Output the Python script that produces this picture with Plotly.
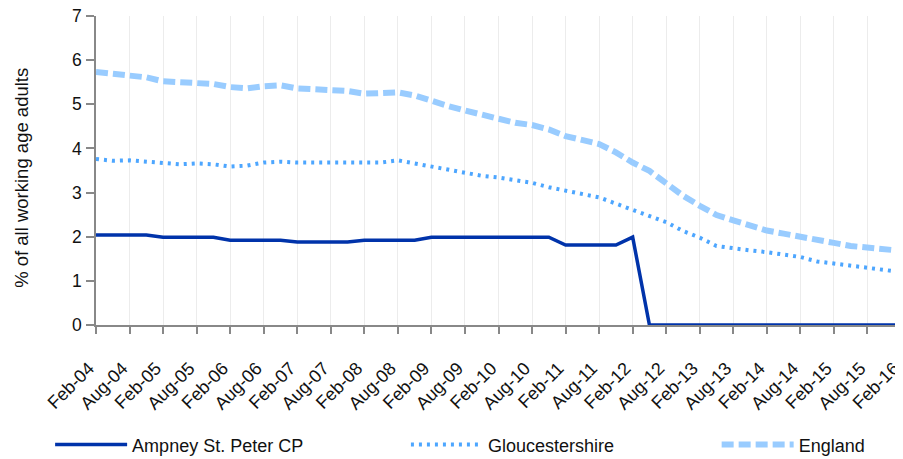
import plotly.graph_objects as go

quarters = [
    "Feb-04", "May-04", "Aug-04", "Nov-04", "Feb-05", "May-05", "Aug-05", "Nov-05",
    "Feb-06", "May-06", "Aug-06", "Nov-06", "Feb-07", "May-07", "Aug-07", "Nov-07",
    "Feb-08", "May-08", "Aug-08", "Nov-08", "Feb-09", "May-09", "Aug-09", "Nov-09",
    "Feb-10", "May-10", "Aug-10", "Nov-10", "Feb-11", "May-11", "Aug-11", "Nov-11",
    "Feb-12", "May-12", "Aug-12", "Nov-12", "Feb-13", "May-13", "Aug-13", "Nov-13",
    "Feb-14", "May-14", "Aug-14", "Nov-14", "Feb-15", "May-15", "Aug-15", "Nov-15",
    "Feb-16",
]
tick_labels = [q for q in quarters if q[:3] in ("Feb", "Aug")]

ampney = [
    2.04, 2.04, 2.04, 2.04, 1.99, 1.99, 1.99, 1.99,
    1.92, 1.92, 1.92, 1.92, 1.88, 1.88, 1.88, 1.88,
    1.92, 1.92, 1.92, 1.92, 1.99, 1.99, 1.99, 1.99,
    1.99, 1.99, 1.99, 1.99, 1.81, 1.81, 1.81, 1.81,
    1.99, 0, 0, 0, 0, 0, 0, 0,
    0, 0, 0, 0, 0, 0, 0, 0,
    0,
]
gloucestershire = [
    3.76, 3.72, 3.73, 3.70, 3.66, 3.64, 3.66, 3.64,
    3.59, 3.61, 3.68, 3.70, 3.68, 3.68, 3.68, 3.68,
    3.68, 3.68, 3.73, 3.66, 3.59, 3.51, 3.46, 3.38,
    3.34, 3.28, 3.22, 3.12, 3.04, 2.97, 2.89, 2.75,
    2.61, 2.48, 2.33, 2.13, 1.98, 1.79, 1.73, 1.69,
    1.65, 1.60, 1.54, 1.44, 1.39, 1.33, 1.28, 1.24,
    1.20,
]
england = [
    5.73, 5.69, 5.67, 5.61, 5.52, 5.50, 5.49, 5.46,
    5.39, 5.36, 5.41, 5.43, 5.36, 5.34, 5.33, 5.30,
    5.24, 5.25, 5.27, 5.20, 5.07, 4.96, 4.86, 4.77,
    4.66, 4.58, 4.53, 4.43, 4.28, 4.18, 4.10, 3.91,
    3.68, 3.49, 3.21, 2.93, 2.70, 2.49, 2.37, 2.25,
    2.14, 2.07, 1.99, 1.92, 1.86, 1.79, 1.75, 1.71,
    1.68,
]

FONT = "Liberation Sans, Arial, sans-serif"

fig = go.Figure()
fig.add_trace(go.Scatter(
    x=quarters, y=ampney, name="Ampney St. Peter CP", mode="lines",
    line=dict(color="#0033aa", width=3.5), legend="legend", showlegend=True,
))
fig.add_trace(go.Scatter(
    x=quarters, y=gloucestershire, name="Gloucestershire", mode="lines",
    line=dict(color="#4da6ff", width=4, dash="3px,5px"), legend="legend2",
))
fig.add_trace(go.Scatter(
    x=quarters, y=england, name="England", mode="lines",
    line=dict(color="#99ccff", width=6, dash="12px,5px"), legend="legend3",
))

legend_style = dict(
    orientation="h", yanchor="middle", xanchor="left", y=-0.388,
    font=dict(family=FONT, size=18, color="#111"),
    bgcolor="rgba(0,0,0,0)", itemwidth=72,
)

# page body has an 8px margin, so the figure is a bit smaller than the window
fig.update_layout(
    width=895, height=451,
    margin=dict(l=88, r=2, t=8, b=134, autoexpand=False),
    paper_bgcolor="white", plot_bgcolor="white",
    font=dict(family=FONT, size=18, color="#111"),
    showlegend=True,
    legend=dict(x=-0.057, **legend_style),
    legend2=dict(x=0.385, **legend_style),
    legend3=dict(x=0.771, **legend_style),
    xaxis=dict(
        type="category", categoryorder="array", categoryarray=quarters,
        range=[0, len(quarters) - 1], automargin=False,
        tickmode="array", tickvals=tick_labels,
        ticktext=[t + "\u00a0\u00a0" for t in tick_labels],
        tickangle=-45, tickfont=dict(size=18),
        ticks="outside", ticklen=7, tickcolor="#888", tickwidth=1.5,
        ticklabelstandoff=10,
        showline=True, linecolor="#888", linewidth=1.5,
        showgrid=True, gridcolor="#ececec", gridwidth=1,
        zeroline=False,
    ),
    yaxis=dict(
        range=[0, 7], dtick=1, automargin=False,
        tickfont=dict(size=17.5), ticklabeloverflow="allow",
        ticks="outside", ticklen=8, tickcolor="#888", tickwidth=1.5,
        ticklabelstandoff=1,
        showline=True, linecolor="#888", linewidth=1.5,
        showgrid=False, zeroline=False,
    ),
    annotations=[dict(
        text="% of all working age adults", textangle=-90,
        xref="paper", yref="paper", x=-0.092, y=0.476,
        xanchor="center", yanchor="middle", showarrow=False,
        font=dict(family=FONT, size=18.5, color="#111"),
    )],
)

fig.write_html("out.html")
